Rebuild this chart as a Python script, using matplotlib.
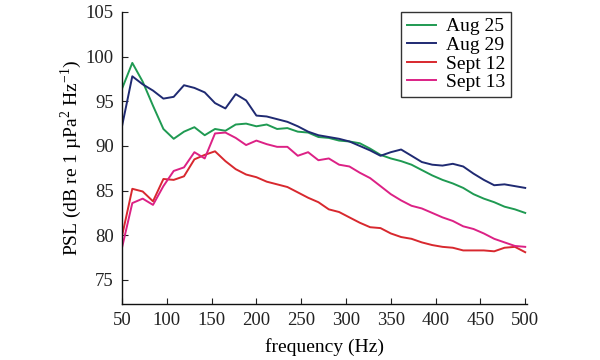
import matplotlib
matplotlib.use("Agg")
import matplotlib.pyplot as plt

plt.rcParams['font.family'] = ['Liberation Serif', 'DejaVu Serif']
plt.rcParams['mathtext.fontset'] = 'custom'
plt.rcParams['mathtext.rm'] = 'Liberation Serif'

freq = [50.0, 61.5, 73.1, 84.6, 96.2, 107.7, 119.2, 130.8, 142.3, 153.8,
        165.4, 176.9, 188.5, 200.0, 211.5, 223.1, 234.6, 246.2, 257.7, 269.2,
        280.8, 292.3, 303.8, 315.4, 326.9, 338.5, 350.0, 361.5, 373.1, 384.6,
        396.2, 407.7, 419.2, 430.8, 442.3, 453.8, 465.4, 476.9, 488.5, 500.0]

aug25 = [96.4, 99.3, 97.2, 94.5, 91.9, 90.8, 91.6, 92.1, 91.2, 91.9,
         91.7, 92.4, 92.5, 92.2, 92.4, 91.9, 92.0, 91.6, 91.5, 91.0,
         90.9, 90.6, 90.5, 90.3, 89.7, 89.0, 88.6, 88.3, 87.9, 87.3,
         86.7, 86.2, 85.8, 85.3, 84.6, 84.1, 83.7, 83.2, 82.9, 82.5]

aug29 = [92.2, 97.8, 96.9, 96.2, 95.3, 95.5, 96.8, 96.5, 96.0, 94.8,
         94.2, 95.8, 95.1, 93.4, 93.3, 93.0, 92.7, 92.2, 91.6, 91.2,
         91.0, 90.8, 90.5, 90.0, 89.5, 88.9, 89.3, 89.6, 88.9, 88.2,
         87.9, 87.8, 88.0, 87.7, 86.9, 86.2, 85.6, 85.7, 85.5, 85.3]

sept12 = [79.9, 85.2, 84.9, 83.8, 86.3, 86.2, 86.6, 88.5, 89.0, 89.4,
          88.3, 87.4, 86.8, 86.5, 86.0, 85.7, 85.4, 84.8, 84.2, 83.7,
          82.9, 82.6, 82.0, 81.4, 80.9, 80.8, 80.2, 79.8, 79.6, 79.2,
          78.9, 78.7, 78.6, 78.3, 78.3, 78.3, 78.2, 78.6, 78.7, 78.1]

sept13 = [78.6, 83.6, 84.1, 83.4, 85.5, 87.2, 87.6, 89.3, 88.6, 91.4,
          91.5, 90.9, 90.1, 90.6, 90.2, 89.9, 89.9, 88.9, 89.3, 88.4,
          88.6, 87.9, 87.7, 87.0, 86.4, 85.5, 84.6, 83.9, 83.3, 83.0,
          82.5, 82.0, 81.6, 81.0, 80.7, 80.2, 79.6, 79.2, 78.8, 78.7]

series_labels = ['Aug 25', 'Aug 29', 'Sept 12', 'Sept 13']
xticks = [50, 100, 150, 200, 250, 300, 350, 400, 450, 500]
yticks = [75, 80, 85, 90, 95, 100, 105]

colors = ['#1f9a52', '#1f2a72', '#d8282e', '#dc2185']

fig = plt.figure(figsize=(6, 3.6), dpi=100)
ax = fig.add_axes([122/600, 1-304/360, 405/600, (304-12)/360])

for ys, lab, c in zip([aug25, aug29, sept12, sept13], series_labels, colors):
    ax.plot(freq, ys, color=c, lw=1.4, label=lab)

ax.set_xlim(50, 502)
ax.set_ylim(72.3, 105)
ax.set_xticks(xticks)
ax.set_yticks(yticks)
ax.tick_params(direction='in', length=4, width=0.8, labelsize=13.5, colors='#222222')
ax.tick_params(axis='x', pad=6)
ax.tick_params(axis='y', pad=6)
ax.spines['top'].set_visible(False)
ax.spines['right'].set_visible(False)
for s in ['left', 'bottom']:
    ax.spines[s].set_linewidth(1.0)
    ax.spines[s].set_color('#111111')

ax.set_xlabel('frequency (Hz)', fontsize=14, labelpad=6)
ax.set_ylabel('PSL (dB re 1 \u00b5Pa$^{2}$ Hz$^{-1}$)', fontsize=14, labelpad=1)

leg = ax.legend(loc='upper right', bbox_to_anchor=(511/600, 1-12/360),
                bbox_transform=fig.transFigure, borderaxespad=0,
                fontsize=14, frameon=True, fancybox=False, handlelength=1.5,
                labelspacing=0.05, borderpad=0.3, handletextpad=0.5)
leg.get_frame().set_edgecolor('black')
leg.get_frame().set_linewidth(1.0)

fig.savefig('out.png', dpi=100)
